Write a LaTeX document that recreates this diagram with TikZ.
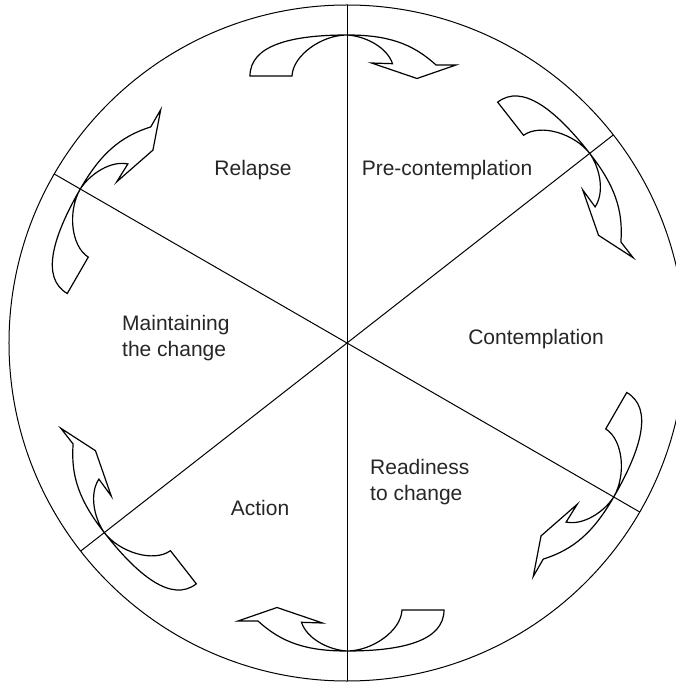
\documentclass[tikz,border=0pt]{standalone}
\usepackage{fontspec}
\setmainfont{Liberation Sans}
\begin{document}
\begin{tikzpicture}[x=1pt,y=1pt,
    stagelabel/.style={font=\fontsize{21}{26.7}\selectfont, text=black!85, inner sep=0pt, align=left},
    cyclearrow/.style={line width=1.2pt, line join=miter}]
    \useasboundingbox (-347,-339) rectangle (328,343);
    % Wheel and spokes
    \coordinate (hub) at (0,0);
    \draw[line width=1pt] (hub) circle (338);
    \foreach \a in {90,38,-30,-90,218,150} {\draw[line width=1pt] (hub) -- (\a:338);}
    % Arrows from stage to stage
    \foreach \a in {90,38,-30,-90,218,150} {
        \begin{scope}[shift={(\a:308)}, rotate={\a-90}]
            \draw[cyclearrow] (-97,-41) .. controls (-97,-10) and (-55,0) .. (0,0)
                .. controls (40,0) and (65,-8) .. (89,-30) -- (109,-30) -- (70,-43.5)
                -- (24.5,-28) -- (45.5,-28.7) .. controls (40,-12) and (18,-1) .. (0,0)
                .. controls (-25,0) and (-54,-20) .. (-55,-41) -- cycle;
        \end{scope}
    }
    % Stage names
    \node[stagelabel] (relapse) at (-94,173) {Relapse};
    \node[stagelabel] (precontemplation) at (100,173) {Pre-contemplation};
    \node[stagelabel] (contemplation) at (189,4) {Contemplation};
    \node[stagelabel, anchor=west] (maintaining) at (-225,5) {Maintaining\\the change};
    \node[stagelabel] (action) at (-87,-165) {Action};
    \node[stagelabel, anchor=west] (readiness) at (23,-139) {Readiness\\to change};
\end{tikzpicture}
\end{document}
